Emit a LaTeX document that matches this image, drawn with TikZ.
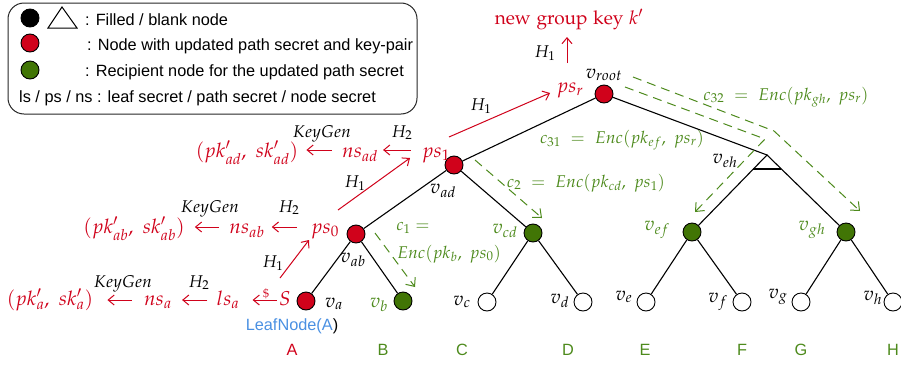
\documentclass[tikz,border=0pt]{standalone}
\usepackage{mathpazo}
\usepackage[no-math]{fontspec}
\newfontfamily\arialfont{Liberation Sans}
\usetikzlibrary{arrows.meta,calc}
\definecolor{kred}{HTML}{D0021B}
\definecolor{kgreen}{HTML}{4D8A1C}
\definecolor{kgreenfill}{HTML}{417505}
\definecolor{kblue}{HTML}{4A90E2}
\begin{document}
\begin{tikzpicture}[x=1pt,y=-1pt,
  vtx/.style={circle,draw=black,line width=0.9pt,minimum size=18pt,inner sep=0pt},
  redv/.style={vtx,fill=kred},
  greenv/.style={vtx,fill=kgreenfill},
  blankv/.style={vtx,fill=white},
  edge/.style={line width=1.1pt,draw=black},
  mtxt/.style={inner sep=0pt,anchor=base,font=\fontsize{17}{20}\selectfont},
  vlab/.style={inner sep=0pt,anchor=base,font=\fontsize{19.5}{22}\selectfont},
  rtxt/.style={inner sep=0pt,anchor=base,font=\fontsize{20}{23}\selectfont,text=kred},
  gtxt/.style={mtxt,text=kgreen},
  sans/.style={inner sep=0pt,anchor=base,font=\arialfont\fontsize{16.3}{19}\selectfont},
  redarr/.style={draw=kred,line width=1pt,-{Straight Barb[length=6pt,width=10pt,line width=1pt]}},
  greenarr/.style={draw=kgreen,line width=1pt,dash pattern=on 9pt off 6pt,-{Straight Barb[length=7pt,width=12pt,line width=1pt]}},
]
\useasboundingbox (0,0) rectangle (901,367);

% legend
\draw[line width=1pt,draw=black!85,rounded corners=16pt] (8,3) rectangle (417,114);
\node[vtx,fill=black] (lgblack) at (30,18) {};
\draw[line width=1pt] (48,28) -- (77,28) -- (62,7) -- cycle;
\node[sans,anchor=base west] (lg1) at (85,25) {: Filled / blank node};
\node[redv] (lgred) at (30,43) {};
\node[sans,anchor=base west] (lg2) at (87,50) {: Node with updated path secret and key-pair};
\node[greenv] (lggreen) at (30,70) {};
\node[sans,anchor=base west] (lg3) at (85,76) {: Recipient node for the updated path secret};
\node[sans,anchor=base west] (lg4) at (19,102) {ls / ps / ns : leaf secret / path secret / node secret};

% tree vertices
\node[redv] (vroot) at (604,94) {};
\node[redv] (vad) at (454,165) {};
\coordinate (veh) at (767,155);
\node[redv] (vab) at (356,234) {};
\node[greenv] (vcd) at (533,233) {};
\node[greenv] (vef) at (692,232) {};
\node[greenv] (vgh) at (846,232) {};
\node[redv] (va) at (306,301) {};
\node[greenv] (vb) at (403,301) {};
\node[blankv] (vc) at (487,302) {};
\node[blankv] (vd) at (583,302) {};
\node[blankv] (ve) at (646,302) {};
\node[blankv] (vf) at (742,302) {};
\node[blankv] (vg) at (801,302) {};
\node[blankv] (vh) at (893,302) {};

% tree edges
\draw[edge] (vroot) -- (vad);
\draw[edge] (vroot) -- (veh);
\draw[edge] (vef) -- (veh) -- (vgh);
\draw[edge] ($(veh)!0.182!(vef)$) -- ($(veh)!0.182!(vgh)$);
\draw[edge] (vad) -- (vab);
\draw[edge] (vad) -- (vcd);
\draw[edge] (vab) -- (va);
\draw[edge] (vab) -- (vb);
\draw[edge] (vcd) -- (vc);
\draw[edge] (vcd) -- (vd);
\draw[edge] (vef) -- (ve);
\draw[edge] (vef) -- (vf);
\draw[edge] (vgh) -- (vg);
\draw[edge] (vgh) -- (vh);

% vertex names
\node[vlab] (lroot) at (604,78) {$v_{root}$};
\node[vlab] (lad) at (443,193) {$v_{ad}$};
\node[vlab] (lab) at (353,262) {$v_{ab}$};
\node[vlab] (la) at (334,307) {$v_a$};
\node[vlab,text=kgreen] (lb) at (379,307) {$v_b$};
\node[vlab] (lc) at (462,305) {$v_c$};
\node[vlab] (ld) at (560,303) {$v_d$};
\node[vlab] (le) at (624,300) {$v_e$};
\node[vlab] (lf) at (718,302) {$v_f$};
\node[vlab] (lg) at (778,298) {$v_g$};
\node[vlab] (lh) at (873,300) {$v_h$};
\node[vlab,text=kgreen] (lcd) at (505,233) {$v_{cd}$};
\node[vlab,text=kgreen] (lef) at (657,230) {$v_{ef}$};
\node[vlab,text=kgreen] (lgh) at (812,230) {$v_{gh}$};
\node[vlab] (leh) at (725,163) {$v_{eh}$};

% secrets along the updated path
\node[rtxt,font=\fontsize{19}{22}\selectfont] (newkey) at (569,24) {$\mathrm{new\ group\ key}\ k'$};
\node[rtxt] (psr) at (570,92) {$ps_r$};
\node[rtxt] (ps1) at (436,157) {$ps_1$};
\node[rtxt] (nsad) at (360,157) {$ns_{ad}$};
\node[rtxt] (pkad) at (247,157) {$(pk'_{ad},\ sk'_{ad})$};
\node[mtxt] (kg1) at (322,137) {$KeyGen$};
\node[mtxt] (h2a) at (402,137) {$H_2$};
\node[rtxt] (ps0) at (325,233) {$ps_0$};
\node[rtxt] (nsab) at (247,233) {$ns_{ab}$};
\node[rtxt] (pkab) at (134,233) {$(pk'_{ab},\ sk'_{ab})$};
\node[mtxt] (kg2) at (210,212) {$KeyGen$};
\node[mtxt] (h2b) at (289,212) {$H_2$};
\node[rtxt] (S) at (285,305) {$S$};
\node[rtxt] (lsa) at (228,305) {$ls_a$};
\node[rtxt] (nsa) at (158,305) {$ns_a$};
\node[rtxt] (pka) at (50,305) {$(pk'_a,\ sk'_a)$};
\node[mtxt] (kg3) at (123,287) {$KeyGen$};
\node[mtxt] (h2c) at (199,287) {$H_2$};
\node[rtxt,font=\fontsize{12}{14}\selectfont] (rnd) at (266,297) {$\$$};
\node[mtxt] (h1a) at (273,267) {$H_1$};
\node[mtxt] (h1b) at (355,187) {$H_1$};
\node[mtxt] (h1c) at (481,110) {$H_1$};
\node[mtxt] (h1d) at (545,57) {$H_1$};

% derivation arrows
\draw[redarr,shorten <=11pt,shorten >=5pt] ([yshift=7pt]ps1.base west) -- ([yshift=7pt]nsad.base east);
\draw[redarr,shorten <=10pt,shorten >=8pt] ([yshift=7pt]nsad.base west) -- ([yshift=7pt]pkad.base east);
\draw[redarr,shorten <=14pt,shorten >=7pt] ([yshift=6pt]ps0.base west) -- ([yshift=6pt]nsab.base east);
\draw[redarr,shorten <=10pt,shorten >=10pt] ([yshift=6pt]nsab.base west) -- ([yshift=6pt]pkab.base east);
\draw[redarr,shorten <=2pt,shorten >=13pt] ([yshift=5pt]S.base west) -- ([yshift=5pt]lsa.base east);
\draw[redarr,shorten <=9pt,shorten >=10pt] ([yshift=5pt]lsa.base west) -- ([yshift=5pt]nsa.base east);
\draw[redarr,shorten <=12pt,shorten >=14pt] ([yshift=5pt]nsa.base west) -- ([yshift=5pt]pka.base east);
\draw[redarr] ([shift={(-5pt,27pt)}]S.base) -- ([shift={(-16pt,-7pt)}]ps0.base);
\draw[redarr] ([shift={(13pt,23pt)}]ps0.base) -- ([shift={(-26pt,-1pt)}]ps1.base);
\draw[redarr] ([shift={(13pt,20pt)}]ps1.base) -- ([shift={(-20pt,-1pt)}]psr.base);
\draw[redarr] ([shift={(-3pt,29pt)}]psr.base) -- ([shift={(-2pt,-13pt)}]newkey.base);

% ciphertexts sent to the recipients
\draw[greenarr] ([shift={(19pt,1pt)}]vab.center) -- ([shift={(12pt,14pt)}]vb.center);
\draw[greenarr] ([shift={(21pt,5pt)}]vad.center) -- ([shift={(9pt,15pt)}]vcd.center);
\draw[greenarr] ([shift={(21pt,7pt)}]vroot.center) -- ([shift={(-2pt,16pt)}]veh) -- ([shift={(3pt,20pt)}]vef.center);
\draw[greenarr] ([shift={(29pt,17pt)}]vroot.center) -- ([shift={(7pt,24pt)}]veh) -- ([shift={(14pt,21pt)}]vgh.center);
\node[gtxt] (c32) at (786,100) {$c_{32}\ =\ Enc(pk_{gh},\ ps_r)$};
\node[gtxt] (c31) at (622,143) {$c_{31}\ =\ Enc(pk_{ef},\ ps_r)$};
\node[gtxt] (c2) at (586,187) {$c_{2}\ =\ Enc(pk_{cd},\ ps_1)$};
\node[gtxt] (c1a) at (413,230) {$c_1 =$};
\node[gtxt] (c1b) at (449,258) {$Enc(pk_b,\ ps_0)$};

% members
\node[sans] (leaf) at (292,330) {\textcolor{kblue}{LeafNode(A}\textcolor{black}{)}};
\node[sans,text=kred] (mA) at (292,355) {A};
\node[sans,text=kgreen] (mB) at (383,355) {B};
\node[sans,text=kgreen] (mC) at (462,355) {C};
\node[sans,text=kgreen] (mD) at (568,355) {D};
\node[sans,text=kgreen] (mE) at (645,355) {E};
\node[sans,text=kgreen] (mF) at (742,355) {F};
\node[sans,text=kgreen] (mG) at (801,355) {G};
\node[sans,text=kgreen] (mH) at (893,355) {H};
\end{tikzpicture}
\end{document}
